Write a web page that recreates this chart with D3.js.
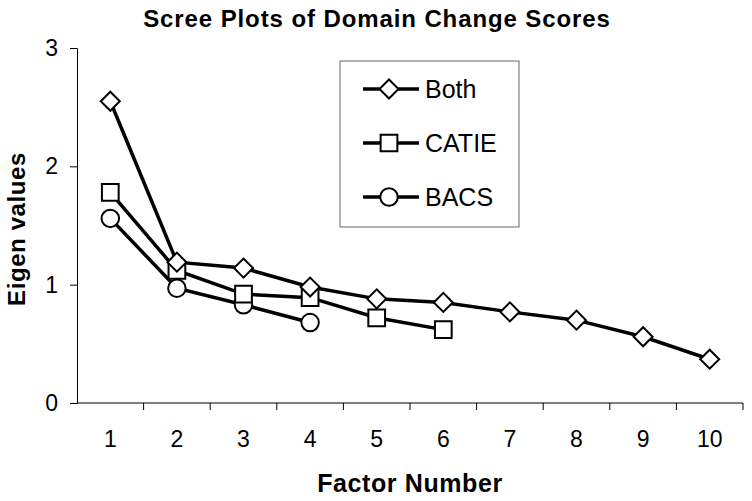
<!DOCTYPE html>
<html>
<head>
<meta charset="utf-8">
<script src="https://cdn.jsdelivr.net/npm/d3@7"></script>
<style>
  body { margin: 0; background: #fff; }
  text { font-family: "Liberation Sans", Arial, sans-serif; fill: #000; }
</style>
</head>
<body>
<div id="chart"></div>
<script>

// factor numbers on the x axis
var factors = [1, 2, 3, 4, 5, 6, 7, 8, 9, 10];

// eigen values
var both  = [2.55, 1.19, 1.14, 0.98, 0.88, 0.85, 0.77, 0.70, 0.56, 0.37];
var catie = [1.78, 1.12, 0.92, 0.89, 0.72, 0.62];
var bacs  = [1.56, 0.97, 0.83, 0.68];

var seriesNames = ["Both", "CATIE", "BACS"];
var seriesShapes = ["diamond", "square", "circle"];
var yTicks = [0, 1, 2, 3];

var W = 752, H = 501;
var margin = {top: 48, right: 9, bottom: 98, left: 77};
var width = W - margin.left - margin.right,
    height = H - margin.top - margin.bottom;

var svg = d3.select("#chart").append("svg")
    .attr("width", W)
    .attr("height", H);

var g = svg.append("g")
    .attr("transform", "translate(" + margin.left + "," + margin.top + ")");

// scales
var x = d3.scaleBand().domain(factors).range([0, width]);
var y = d3.scaleLinear().domain([0, 3]).range([height, 0]);

// x axis: ticks sit between categories, labels at band centres
var xAxis = g.append("g")
    .attr("transform", "translate(0," + height + ")");
xAxis.append("line")
    .attr("x1", 0).attr("x2", width)
    .attr("stroke", "#000").attr("stroke-width", 1);
xAxis.selectAll(".tk")
    .data(factors)
    .enter().append("line")
    .attr("x1", function(d) { return x(d) + x.bandwidth(); })
    .attr("x2", function(d) { return x(d) + x.bandwidth(); })
    .attr("y1", 0).attr("y2", 7)
    .attr("stroke", "#000");
xAxis.selectAll(".lbl")
    .data(factors)
    .enter().append("text")
    .attr("x", function(d) { return x(d) + x.bandwidth() / 2; })
    .attr("y", 44)
    .attr("text-anchor", "middle")
    .style("font-size", "23px")
    .text(function(d) { return d; });

// y axis
var yAxis = g.append("g")
    .call(d3.axisLeft(y).tickValues(yTicks).tickFormat(d3.format("d"))
      .tickSize(7).tickPadding(12));
yAxis.select(".domain").attr("stroke", "#000");
yAxis.selectAll("text").style("font-size", "23px").attr("fill", "#000");

// title and axis labels
svg.append("text")
    .attr("x", 377).attr("y", 27)
    .attr("text-anchor", "middle")
    .style("font-size", "24px").style("font-weight", "bold")
    .style("letter-spacing", "0.9px")
    .text("Scree Plots of Domain Change Scores");

svg.append("text")
    .attr("x", margin.left + width / 2).attr("y", 492)
    .attr("text-anchor", "middle")
    .style("font-size", "25px").style("font-weight", "bold")
    .style("letter-spacing", "0.6px")
    .text("Factor Number");

svg.append("text")
    .attr("transform", "translate(25,229) rotate(-90)")
    .attr("text-anchor", "middle")
    .style("font-size", "24px").style("font-weight", "bold")
    .style("letter-spacing", "0.6px")
    .text("Eigen values");

// lines + markers
var line = d3.line()
    .x(function(d, i) { return x(factors[i]) + x.bandwidth() / 2; })
    .y(function(d) { return y(d); });

var symbols = {
  diamond: d3.symbol().type(d3.symbolSquare).size(180),
  square: d3.symbol().type(d3.symbolSquare).size(280),
  circle: d3.symbol().type(d3.symbolCircle).size(240)
};

function drawMarker(sel, shape) {
  var p = sel.append("path")
      .attr("d", symbols[shape]())
      .attr("fill", "#fff")
      .attr("stroke", "#000")
      .attr("stroke-width", 2);
  if (shape == "diamond") p.attr("transform", "rotate(45)");
  return p;
}

var allSeries = [both, catie, bacs];

// draw lines first so markers sit on top
allSeries.forEach(function(s) {
  g.append("path")
      .datum(s)
      .attr("fill", "none")
      .attr("stroke", "#000")
      .attr("stroke-width", 3.5)
      .attr("d", line);
});

// markers drawn from last series to first (Both on top)
[2, 1, 0].forEach(function(k) {
  var s = allSeries[k];
  s.forEach(function(v, i) {
    var m = g.append("g")
        .attr("transform", "translate(" + (x(factors[i]) + x.bandwidth() / 2) + "," + y(v) + ")");
    drawMarker(m, seriesShapes[k]);
  });
});

// legend
var legend = svg.append("g").attr("transform", "translate(340,61)");
legend.append("rect")
    .attr("width", 179).attr("height", 166)
    .attr("fill", "#fff")
    .attr("stroke", "#808080").attr("stroke-width", 1.2);

seriesNames.forEach(function(name, k) {
  var row = legend.append("g").attr("transform", "translate(0," + (28 + k * 54) + ")");
  row.append("line")
      .attr("x1", 23).attr("x2", 79)
      .attr("stroke", "#000").attr("stroke-width", 3.5);
  var m = row.append("g").attr("transform", "translate(49,0)");
  drawMarker(m, seriesShapes[k]);
  row.append("text")
      .attr("x", 85).attr("y", 9)
      .style("font-size", "25px")
      .text(name);
});

</script>
</body>
</html>
